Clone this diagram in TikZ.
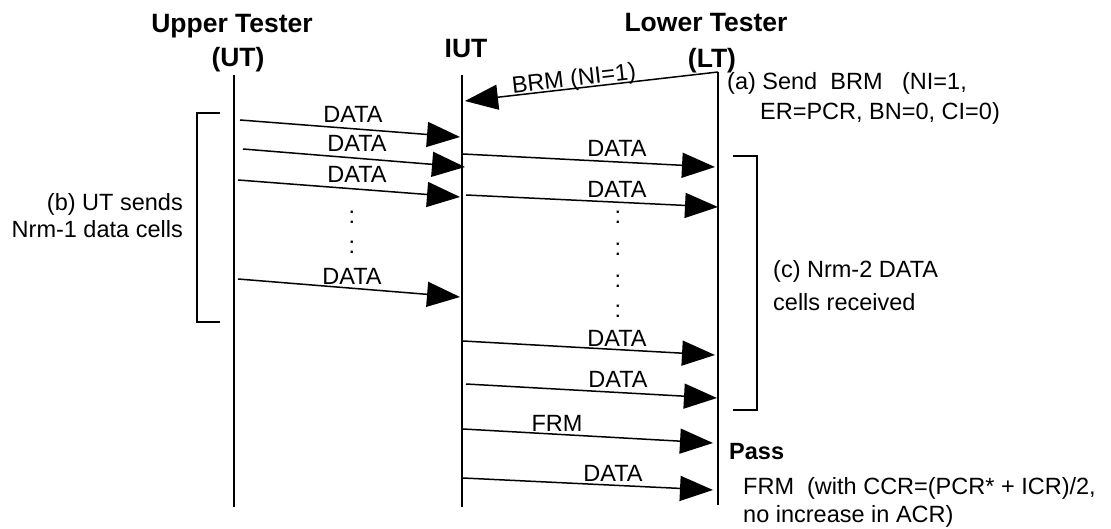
\documentclass[tikz,border=0pt]{standalone}
\usepackage{fontspec}
\setmainfont{Liberation Sans}
\usetikzlibrary{arrows.meta}
\tikzset{
  lbl/.style={font=\fontsize{23.5}{28}\selectfont, inner sep=0pt},
  ttl/.style={font=\bfseries\fontsize{26.5}{31}\selectfont, inner sep=0pt},
  life/.style={line width=1.8pt},
  brk/.style={line width=1.6pt},
  msg/.style={line width=1.5pt, -{Triangle[length=33pt,width=25pt]}}
}
\begin{document}
\begin{tikzpicture}[x=1pt,y=-1pt]
\useasboundingbox (0,0) rectangle (1111,529);
% titles
\node[ttl, anchor=base] (ut1) at (232,33) {Upper Tester};
\node[ttl, anchor=base] (ut2) at (238,67) {(UT)};
\node[ttl, anchor=base] (iut) at (466,58) {IUT};
\node[ttl, anchor=base] (lt1) at (706,32) {Lower Tester};
\node[ttl, anchor=base] (lt2) at (712,68) {(LT)};
% lifelines
\coordinate (UTt) at (234,75);  \coordinate (UTb) at (234,507);
\coordinate (IUTt) at (462,75); \coordinate (IUTb) at (462,507);
\coordinate (LTt) at (718,72);  \coordinate (LTb) at (718,505);
\draw[life] (UTt) -- (UTb);
\draw[life] (IUTt) -- (IUTb);
\draw[life] (LTt) -- (LTb);
% BRM
\coordinate (brmS) at (718,72); \coordinate (brmE) at (465,101);
\draw[msg] (brmS) -- (brmE);
\node[lbl, rotate=6.5] (brmL) at (574,80) {BRM (NI=1)};
% UT -> IUT
\coordinate (u1s) at (240,120); \coordinate (u1e) at (460,137);
\coordinate (u2s) at (243,149); \coordinate (u2e) at (465,167);
\coordinate (u3s) at (238,180); \coordinate (u3e) at (460,197);
\coordinate (u4s) at (238,279); \coordinate (u4e) at (460,297);
\draw[msg] (u1s) -- (u1e);
\draw[msg] (u2s) -- (u2e);
\draw[msg] (u3s) -- (u3e);
\draw[msg] (u4s) -- (u4e);
\node[lbl, anchor=base] (ul1) at (353,123) {DATA};
\node[lbl, anchor=base] (ul2) at (357,152) {DATA};
\node[lbl, anchor=base] (ul3) at (357,183) {DATA};
\node[lbl, anchor=base] (ul4) at (352,285) {DATA};
\node[lbl, anchor=base] (ud1) at (352,224) {:};
\node[lbl, anchor=base] (ud2) at (352,254) {:};
% IUT -> LT
\coordinate (r1s) at (463,154); \coordinate (r1e) at (715,167);
\coordinate (r2s) at (466,195); \coordinate (r2e) at (718,207);
\coordinate (r3s) at (463,341); \coordinate (r3e) at (715,355);
\coordinate (r4s) at (466,384); \coordinate (r4e) at (717,398);
\coordinate (r5s) at (463,429); \coordinate (r5e) at (713,443);
\coordinate (r6s) at (463,478); \coordinate (r6e) at (713,490);
\draw[msg] (r1s) -- (r1e);
\draw[msg] (r2s) -- (r2e);
\draw[msg] (r3s) -- (r3e);
\draw[msg] (r4s) -- (r4e);
\draw[msg] (r5s) -- (r5e);
\draw[msg] (r6s) -- (r6e);
\node[lbl, anchor=base] (rl1) at (617,157) {DATA};
\node[lbl, anchor=base] (rl2) at (617,198) {DATA};
\node[lbl, anchor=base] (rl3) at (617,346) {DATA};
\node[lbl, anchor=base] (rl4) at (618,387) {DATA};
\node[lbl, anchor=base] (rl5) at (557,431) {FRM};
\node[lbl, anchor=base] (rl6) at (613,481) {DATA};
\node[lbl, anchor=base] (rd1) at (618,224) {:};
\node[lbl, anchor=base] (rd2) at (618,256) {:};
\node[lbl, anchor=base] (rd3) at (618,288) {:};
\node[lbl, anchor=base] (rd4) at (618,318) {:};
% brackets
\coordinate (bA) at (220,113); \coordinate (bB) at (197,113);
\coordinate (bC) at (197,322); \coordinate (bD) at (220,322);
\draw[brk] (bA) -- (bB) -- (bC) -- (bD);
\coordinate (cA) at (733,156); \coordinate (cB) at (757,156);
\coordinate (cC) at (757,410); \coordinate (cD) at (733,410);
\draw[brk] (cA) -- (cB) -- (cC) -- (cD);
% annotations
\node[lbl, anchor=base west] (a1) at (727,90) {(a) Send\ \ BRM\ \ \ (NI=1,};
\node[lbl, anchor=base west] (a2) at (760,120) {ER=PCR, BN=0, CI=0)};
\node[lbl, anchor=base east] (b1) at (183,211) {(b) UT sends};
\node[lbl, anchor=base east] (b2) at (183,238) {Nrm-1 data cells};
\node[lbl, anchor=base west] (c1) at (773,278) {(c) Nrm-2 DATA};
\node[lbl, anchor=base west] (c2) at (773,311) {cells received};
\node[lbl, font=\bfseries\fontsize{23.5}{28}\selectfont, anchor=base west] (pass) at (729,459) {Pass};
\node[lbl, anchor=base west] (f1) at (743,494) {FRM\ \ (with CCR=(PCR* + ICR)/2,};
\node[lbl, anchor=base west] (f2) at (743,522) {no increase in ACR)};
\end{tikzpicture}
\end{document}
